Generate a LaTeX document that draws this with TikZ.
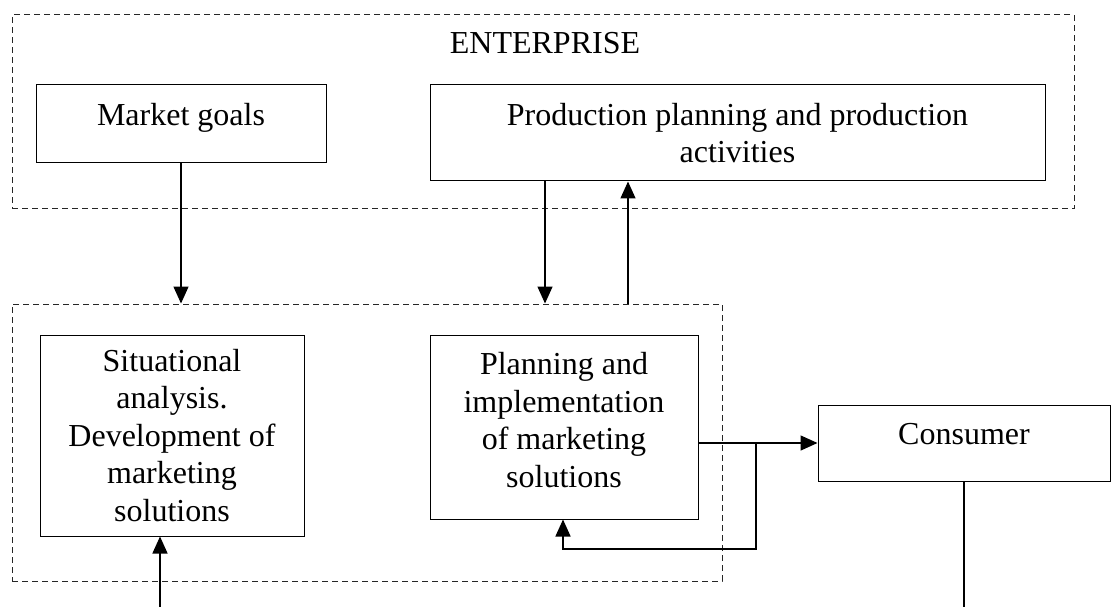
\documentclass[tikz,border=0pt]{standalone}
\usepackage{fontspec}
\setmainfont{Liberation Serif}
\usetikzlibrary{arrows.meta}
\begin{document}
\begin{tikzpicture}[x=1pt,y=-1pt,
  txt/.style={font=\fontsize{32}{37.5}\selectfont, align=center, inner sep=0pt},
  box/.style={draw, line width=1pt, inner sep=0pt},
  frame/.style={draw=black!85, dash pattern=on 6pt off 4pt, line width=1pt, inner sep=0pt},
  link/.style={line width=1.5pt, -{Triangle[length=17pt,width=15pt]}},
  plain/.style={line width=1.5pt}]
\useasboundingbox (0,0) rectangle (1112,607);

% dashed groupings
\node[frame, minimum width=1062pt, minimum height=194pt] (ent) at (543,112) {};
\node[frame, minimum width=710pt, minimum height=277pt] (mkt) at (367,442.5) {};
\node[txt] (title) at (545,43) {ENTERPRISE};

% boxes
\node[box, minimum width=290pt, minimum height=78pt] (goals) at (181,124) {};
\node[box, minimum width=615pt, minimum height=96pt] (prod) at (737.5,133) {};
\node[box, minimum width=264pt, minimum height=201pt] (sit) at (172,435.5) {};
\node[box, minimum width=268pt, minimum height=184pt] (plan) at (564,427) {};
\node[box, minimum width=292pt, minimum height=76pt] (cons) at (964,443) {};

% box captions
\node[txt, yshift=6pt] (goalsT) at (goals) {Market goals};
\node[txt] (prodT) at (prod) {Production planning and production\\activities};
\node[txt] (sitT) at (sit) {Situational\\analysis.\\Development of\\marketing\\solutions};
\node[txt, yshift=7pt] (planT) at (plan) {Planning and\\implementation\\of marketing\\solutions};
\node[txt, yshift=9pt] (consT) at (cons) {Consumer};

% connectors
\coordinate (dn) at (545,0);
\coordinate (up) at (628,0);
\coordinate (split) at (756,443);
\coordinate (ret) at (563,549);
\coordinate (outR) at (964,607);
\coordinate (inL) at (160,607);

\draw[link] (goals.south) -- (goals.south |- mkt.north);
\draw[link] (dn |- prod.south) -- (dn |- mkt.north);
\draw[link] (up |- mkt.north) -- (up |- prod.south);
\draw[link] (plan.east |- cons.west) -- (cons.west);
\draw[link] (split) |- (ret) -- (ret |- plan.south);
\draw[plain] (cons.south) -- (outR);
\draw[link] (inL) -- (inL |- sit.south);
\end{tikzpicture}
\end{document}
